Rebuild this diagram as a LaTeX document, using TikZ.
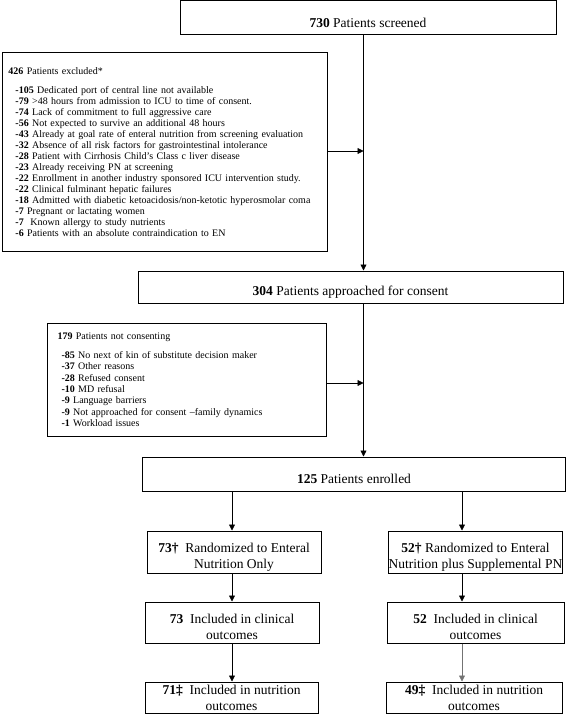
\documentclass[tikz,border=0pt]{standalone}
\usepackage{fontspec}
\setmainfont{Liberation Serif}
\usetikzlibrary{arrows.meta}
\newcommand\padtop{\rule{0pt}{19pt}}
\begin{document}
\begin{tikzpicture}[x=1pt,y=-1pt,
  box/.style={draw, line width=1pt, inner sep=0pt, align=center, font=\fontsize{13.5}{16}\selectfont},
  listbox/.style={draw, line width=1pt, inner ysep=0pt, align=left},
  arr/.style={line width=0.8pt, -{Triangle[length=6pt,width=6pt]}}]
\useasboundingbox (0,0) rectangle (567,714);

% main column
\node[box, minimum width=376pt, minimum height=34pt] (screen) at (368,18) {\padtop\textbf{730} Patients screened};
\node[box, minimum width=425pt, minimum height=32pt] (approach) at (350.5,287) {\padtop\textbf{304} Patients approached for consent};
\node[box, minimum width=423pt, minimum height=34pt] (enrolled) at (354,474) {\padtop\textbf{125} Patients enrolled};

% exclusion boxes
\node[listbox, anchor=north west, minimum height=199pt, text width=313pt, inner xsep=6pt,
      font=\fontsize{10}{11}\selectfont] (excl) at (2,52) {%
\textbf{426} Patients excluded*\\[8pt]
\hspace*{7pt}\textbf{-105} Dedicated port of central line not available\\
\hspace*{7pt}\textbf{-79} >48 hours from admission to ICU to time of consent.\\
\hspace*{7pt}\textbf{-74} Lack of commitment to full aggressive care\\
\hspace*{7pt}\textbf{-56} Not expected to survive an additional 48 hours\\
\hspace*{7pt}\textbf{-43} Already at goal rate of enteral nutrition from screening evaluation\\
\hspace*{7pt}\textbf{-32} Absence of all risk factors for gastrointestinal intolerance\\
\hspace*{7pt}\textbf{-28} Patient with Cirrhosis Child's Class c liver disease\\
\hspace*{7pt}\textbf{-23} Already receiving PN at screening\\
\hspace*{7pt}\textbf{-22} Enrollment in another industry sponsored ICU intervention study.\\
\hspace*{7pt}\textbf{-22} Clinical fulminant hepatic failures\\
\hspace*{7pt}\textbf{-18} Admitted with diabetic ketoacidosis/non-ketotic hyperosmolar coma\\
\hspace*{7pt}\textbf{-7} Pregnant or lactating women\\
\hspace*{7pt}\textbf{-7}\ \ Known allergy to study nutrients\\
\hspace*{7pt}\textbf{-6} Patients with an absolute contraindication to EN};

\node[listbox, anchor=north west, minimum height=113pt, text width=259pt, inner xsep=10pt,
      font=\fontsize{10}{11.4}\selectfont] (nocons) at (47,323) {%
\textbf{179} Patients not consenting\\[7pt]
\hspace*{4pt}\textbf{-85} No next of kin of substitute decision maker\\
\hspace*{4pt}\textbf{-37} Other reasons\\
\hspace*{4pt}\textbf{-28} Refused consent\\
\hspace*{4pt}\textbf{-10} MD refusal\\
\hspace*{4pt}\textbf{-9} Language barriers\\
\hspace*{4pt}\textbf{-9} Not approached for consent –family dynamics\\
\hspace*{4pt}\textbf{-1} Workload issues};

% arms
\node[box, minimum width=174pt, minimum height=42pt] (ra) at (234,552) {\padtop\textbf{73†}\ \ Randomized to Enteral\\Nutrition Only};
\node[box, minimum width=173pt, minimum height=42pt] (rb) at (475.5,552) {\padtop\textbf{52†} Randomized to Enteral\\Nutrition plus Supplemental PN};
\node[box, minimum width=174pt, minimum height=41pt] (ca) at (232,622.5) {\padtop\textbf{73}\ \ Included in clinical\\outcomes};
\node[box, minimum width=177pt, minimum height=41pt] (cb) at (475.5,622.5) {\padtop\textbf{52}\ \ Included in clinical\\outcomes};
\node[box, minimum width=173pt, minimum height=31pt] (na) at (231.5,697.5) {\textbf{71‡}\ \ Included in nutrition\\outcomes};
\node[box, minimum width=176pt, minimum height=31pt] (nb) at (474,697.5) {\textbf{49‡}\ \ Included in nutrition\\outcomes};

% connector guides
\coordinate (mx) at (363.5,0);
\coordinate (j1) at (363.5,151);
\coordinate (j2) at (363.5,383);
\coordinate (lx) at (232,0);
\coordinate (rx) at (462,0);

\draw[arr] (screen.south -| mx) -- (approach.north -| mx);
\draw[arr] (excl.east |- j1) -- (j1);
\draw[arr] (approach.south -| mx) -- (enrolled.north -| mx);
\draw[arr] (nocons.east |- j2) -- (j2);
\draw[arr] (enrolled.south -| lx) -- (ra.north -| lx);
\draw[arr] (enrolled.south -| rx) -- (rb.north -| rx);
\draw[arr] (ra.south -| lx) -- (ca.north -| lx);
\draw[arr] (rb.south -| rx) -- (cb.north -| rx);
\draw[arr] (ca.south -| lx) -- (na.north -| lx);
\draw[arr, draw=black!55] (cb.south -| rx) -- (nb.north -| rx);
\end{tikzpicture}
\end{document}
